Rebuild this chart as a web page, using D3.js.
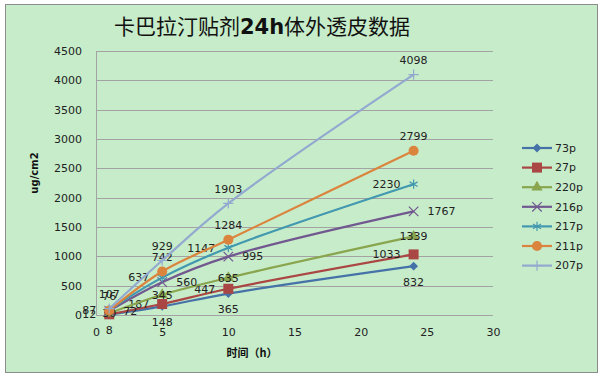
<!DOCTYPE html>
<html>
<head>
<meta charset="utf-8">
<script src="https://cdn.jsdelivr.net/npm/d3@7"></script>
<style>
  body { margin: 0; background: #ffffff; }
  text { font-family: "DejaVu Sans", Verdana, sans-serif; }
</style>
</head>
<body>
<div id="chart"></div>
<script>
// Data
let hours = [1, 5, 10, 24]
let seriesNames = ['73p', '27p', '220p', '216p', '217p', '211p', '207p']
let v73p = [8, 148, 365, 832]
let v27p = [12, 187, 447, 1033]
let v220p = [30, 345, 635, 1339]
let v216p = [72, 560, 995, 1767]
let v217p = [87, 637, 1147, 2230]
let v211p = [76, 742, 1284, 2799]
let v207p = [107, 929, 1903, 4098]
let xTicks = [0, 5, 10, 15, 20, 25, 30]
let yTicks = [0, 500, 1000, 1500, 2000, 2500, 3000, 3500, 4000, 4500]

let allValues = [v73p, v27p, v220p, v216p, v217p, v211p, v207p]
let colors = ['#4572A7', '#AA4643', '#89A54E', '#71588F', '#4198AF', '#DB843D', '#93A9CF']
let symbols = [d3.symbolDiamond2, d3.symbolSquare, d3.symbolTriangle, d3.symbolTimes,
               d3.symbolAsterisk, d3.symbolCircle, d3.symbolPlus]
let symbolSizes = [50, 100, 55, 60, 60, 80, 36]
let filled = [true, true, true, false, false, true, false]
// where excel put each series' labels
let labelPos = ['below', 'left', 'center', 'right', 'left', 'above', 'above']

let svg = d3.select('#chart')
    .append('svg')
    .attr('width', 605)
    .attr('height', 379)

// chart area background + border
svg.append('rect')
    .attr('x', 5.5)
    .attr('y', 4.5)
    .attr('width', 592)
    .attr('height', 368)
    .attr('fill', '#c7ecca')
    .attr('stroke', '#8c8c8c')
    .attr('stroke-width', 1)

// title
let title = svg.append('text')
    .attr('x', 262)
    .attr('y', 34)
    .attr('text-anchor', 'middle')
    .style('font-size', '21px')
    .style('fill', '#111')
title.append('tspan').style('font-family', '"Noto Sans CJK SC"').text('卡巴拉汀贴剂')
title.append('tspan').style('font-weight', 'bold').style('font-family', '"DejaVu Sans"').text('24h')
title.append('tspan').style('font-family', '"Noto Sans CJK SC"').text('体外透皮数据')

let x = d3.scaleLinear().domain([0, 30]).range([96, 493])
let y = d3.scaleLinear().domain([0, 4500]).range([315, 51])

// gridlines
svg.append('g')
    .attr('transform', 'translate(96,0)')
    .call(d3.axisLeft(y).tickValues(yTicks).tickSize(-397).tickFormat(''))
    .call(g => g.select('.domain').remove())
    .call(g => g.selectAll('line').attr('stroke', '#a3a3a3').attr('shape-rendering', 'crispEdges'))

// y axis
svg.append('g')
    .attr('transform', 'translate(96,0)')
    .call(d3.axisLeft(y).tickValues(yTicks).tickSize(0).tickPadding(14).tickFormat(d3.format('d')))
    .call(g => g.select('.domain').attr('stroke', '#a3a3a3').attr('shape-rendering', 'crispEdges'))
    .call(g => g.selectAll('text').style('font-size', '11px').style('fill', '#222')
        .style('font-family', '"DejaVu Sans"'))

// x axis (labels only)
svg.append('g')
    .attr('transform', 'translate(0,315)')
    .call(d3.axisBottom(x).tickValues(xTicks).tickSize(0).tickPadding(13).tickFormat(d3.format('d')))
    .call(g => g.select('.domain').remove())
    .call(g => g.selectAll('text').style('font-size', '11px').style('fill', '#222')
        .style('font-family', '"DejaVu Sans"'))

// axis titles
svg.append('text')
    .attr('transform', 'translate(38,173) rotate(-90)')
    .attr('text-anchor', 'middle')
    .style('font-size', '10px')
    .style('font-weight', 'bold')
    .style('fill', '#111')
    .text('ug/cm2')

svg.append('text')
    .attr('x', 252)
    .attr('y', 357)
    .attr('text-anchor', 'middle')
    .style('font-size', '11px')
    .style('font-weight', 'bold')
    .style('font-family', '"Noto Sans CJK SC"')
    .style('fill', '#111')
    .text('时间（h）')

let line = d3.line()
    .x((d, i) => x(hours[i]))
    .y(d => y(d))
    .curve(d3.curveCatmullRom.alpha(0.5))

// lines, markers, labels for each series
allValues.forEach(function (vals, s) {
    let g = svg.append('g')

    g.append('path')
        .datum(vals)
        .attr('d', line)
        .attr('fill', 'none')
        .attr('stroke', colors[s])
        .attr('stroke-width', 2.2)

    g.selectAll('.mark')
        .data(vals)
        .enter()
        .append('path')
        .attr('transform', (d, i) => `translate(${x(hours[i])},${y(d)})`)
        .attr('d', d3.symbol().type(symbols[s]).size(symbolSizes[s]))
        .attr('fill', filled[s] ? colors[s] : 'none')
        .attr('stroke', colors[s])
        .attr('stroke-width', filled[s] ? 0 : 1.2)

    let pos = labelPos[s]
    g.selectAll('.lab')
        .data(vals)
        .enter()
        .append('text')
        .attr('x', (d, i) => x(hours[i]) + (pos == 'left' ? -13 : pos == 'right' ? 14 : 0))
        .attr('y', (d) => y(d) + (pos == 'above' ? -14.5 : pos == 'below' ? 16 : 0))
        .attr('dy', '0.35em')
        .attr('text-anchor', pos == 'left' ? 'end' : pos == 'right' ? 'start' : 'middle')
        .style('font-size', '11px')
        .style('fill', '#222')
        .text(d => d)
})

// legend
let legend = svg.append('g')
seriesNames.forEach(function (name, s) {
    let ly = 148 + s * 19.6
    legend.append('line')
        .attr('x1', 522).attr('x2', 552)
        .attr('y1', ly).attr('y2', ly)
        .attr('stroke', colors[s])
        .attr('stroke-width', 2.2)
    legend.append('path')
        .attr('transform', `translate(537,${ly})`)
        .attr('d', d3.symbol().type(symbols[s]).size(symbolSizes[s]))
        .attr('fill', filled[s] ? colors[s] : 'none')
        .attr('stroke', colors[s])
        .attr('stroke-width', filled[s] ? 0 : 1.2)
    legend.append('text')
        .attr('x', 555)
        .attr('y', ly)
        .attr('dy', '0.35em')
        .style('font-size', '11px')
        .style('fill', '#222')
        .text(name)
})
</script>
</body>
</html>
